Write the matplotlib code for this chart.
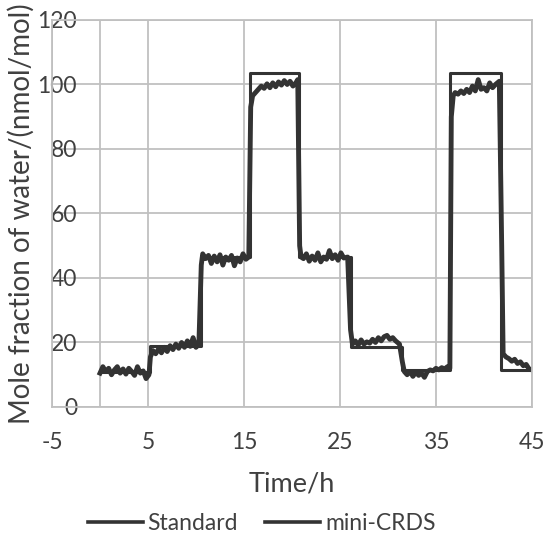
import matplotlib
matplotlib.use("Agg")
import matplotlib.pyplot as plt

# standard (step) values
std_time = [0, 5.2, 10.5, 15.6, 20.7, 26.1, 31.5, 36.5, 41.8, 45]
std_value = [11.0, 19.0, 46.5, 103.6, 46.5, 18.6, 11.5, 103.6, 11.5, 11.5]

# mini-CRDS readings
mini_time = [0.0, 0.3, 0.6, 0.9, 1.2, 1.5, 1.8, 2.1, 2.4, 2.7, 3.0, 3.3, 3.6, 3.9, 4.2, 4.5, 4.8, 5.1,
             5.25, 5.5, 5.8, 6.1, 6.4, 6.7, 7.0, 7.3, 7.6, 7.9, 8.2, 8.5, 8.8, 9.1, 9.4, 9.7, 10.0, 10.3,
             10.55, 10.7, 11.0, 11.3, 11.6, 11.9, 12.2, 12.5, 12.8, 13.1, 13.4, 13.7, 14.0, 14.3, 14.6, 14.9, 15.2, 15.5,
             15.7, 15.9, 16.2, 16.5, 16.8, 17.1, 17.4, 17.7, 18.0, 18.3, 18.6, 18.9, 19.2, 19.5, 19.8, 20.1, 20.4, 20.6,
             20.8, 20.95, 21.2, 21.5, 21.8, 22.1, 22.4, 22.7, 23.0, 23.3, 23.6, 23.9, 24.2, 24.5, 24.8, 25.1, 25.4, 25.8,
             26.1, 26.3, 26.6, 26.9, 27.2, 27.5, 27.8, 28.1, 28.4, 28.7, 29.0, 29.3, 29.6, 29.9, 30.2, 30.5, 30.8, 31.2,
             31.5, 31.7, 32.0, 32.3, 32.6, 32.9, 33.2, 33.5, 33.8, 34.1, 34.4, 34.7, 35.0, 35.3, 35.6, 35.9, 36.2, 36.45,
             36.6, 36.8, 37.0, 37.3, 37.6, 37.9, 38.2, 38.5, 38.8, 39.1, 39.4, 39.7, 40.0, 40.3, 40.6, 40.9, 41.2, 41.6,
             41.85, 42.0, 42.3, 42.6, 42.9, 43.2, 43.5, 43.8, 44.1, 44.4, 44.7, 45.0]
mini_value = [10.5, 12.5, 11.0, 12.0, 10.0, 11.5, 12.5, 10.5, 11.8, 10.2, 12.0, 11.0, 9.8, 12.5, 10.5, 11.2, 8.8, 10.0,
              15.5, 17.5, 16.5, 18.0, 16.8, 18.5, 17.2, 19.0, 17.8, 19.5, 18.2, 20.0, 18.5, 20.5, 18.8, 21.5, 18.5, 19.5,
              44.0, 47.5, 46.0, 47.0, 44.5, 46.8, 45.0, 47.2, 44.0, 46.5, 45.5, 47.0, 43.8, 46.2, 45.0, 47.5, 45.8, 46.5,
              93.0, 96.5, 97.5, 98.5, 99.5, 98.8, 100.2, 99.0, 100.5, 99.3, 100.8, 99.8, 101.2, 100.0, 101.0, 99.5, 100.5, 101.5,
              50.0, 46.5, 46.0, 47.5, 45.2, 46.8, 45.5, 47.8, 45.0, 46.5, 45.8, 48.5, 46.0, 47.2, 45.5, 47.8, 46.2, 46.5,
              24.0, 19.5, 20.5, 19.2, 20.8, 19.5, 20.2, 19.8, 21.0, 20.0, 21.5, 20.5, 21.8, 22.2, 21.0, 21.5, 20.5, 19.5,
              14.0, 11.0, 10.0, 11.0, 9.5, 10.8, 9.8, 10.5, 9.2, 11.0, 11.5, 11.2, 12.0, 11.5, 12.2, 11.8, 12.5, 12.0,
              90.0, 96.5, 97.5, 97.0, 98.0, 97.2, 98.5, 97.5, 99.5, 98.0, 101.5, 98.5, 99.0, 98.0, 100.5, 99.0, 100.0, 101.0,
              50.0, 16.5, 15.5, 15.0, 14.2, 14.8, 13.5, 14.0, 12.8, 13.2, 11.8, 11.5]

x_ticks = [-5, 5, 15, 25, 35, 45]
y_ticks = [0, 20, 40, 60, 80, 100, 120]

plt.rcParams['font.family'] = ['Lato', 'DejaVu Sans']
plt.rcParams['axes.unicode_minus'] = False
grid_c = "#c0c0c0"
text_c = "#404040"

fig = plt.figure(figsize=(5.51, 5.40), dpi=100)
ax = fig.add_axes([0.0944, 0.2463, 0.871, 0.7167])

ax.plot(std_time, std_value, drawstyle="steps-post", color="#333333", lw=2.2, label="Standard")
ax.plot(mini_time, mini_value, color="#333333", lw=3.5, label="mini-CRDS")

ax.set_xlim(-5, 45)
ax.set_ylim(0, 120)
ax.set_xticks(x_ticks)
ax.set_yticks(y_ticks)
ax.grid(True, color=grid_c, lw=1.3)
ax.axvline(0, color=grid_c, lw=1.3, zorder=0.5)
ax.set_axisbelow(True)
for s in ax.spines.values():
    s.set_color(grid_c)
    s.set_linewidth(1.3)

ax.tick_params(axis="y", length=0, pad=-18, labelsize=16.5, labelcolor=text_c)
ax.tick_params(axis="x", length=0, pad=18, labelsize=16.5, labelcolor=text_c)

ax.set_xlabel("Time/h", fontsize=19.5, color=text_c, labelpad=13)
ax.set_ylabel("Mole fraction of water/(nmol/mol)", fontsize=20, color=text_c)
ax.yaxis.set_label_coords(-0.035, 0.5)

leg = fig.legend(loc="lower center", bbox_to_anchor=(0.475, -0.027), ncol=2, frameon=False,
                 fontsize=16.5, handlelength=2.4, handletextpad=0.2, columnspacing=1.2,
                 labelcolor=text_c)
for line in leg.get_lines():
    line.set_linewidth(2.6)

fig.savefig("out.png", dpi=100)
